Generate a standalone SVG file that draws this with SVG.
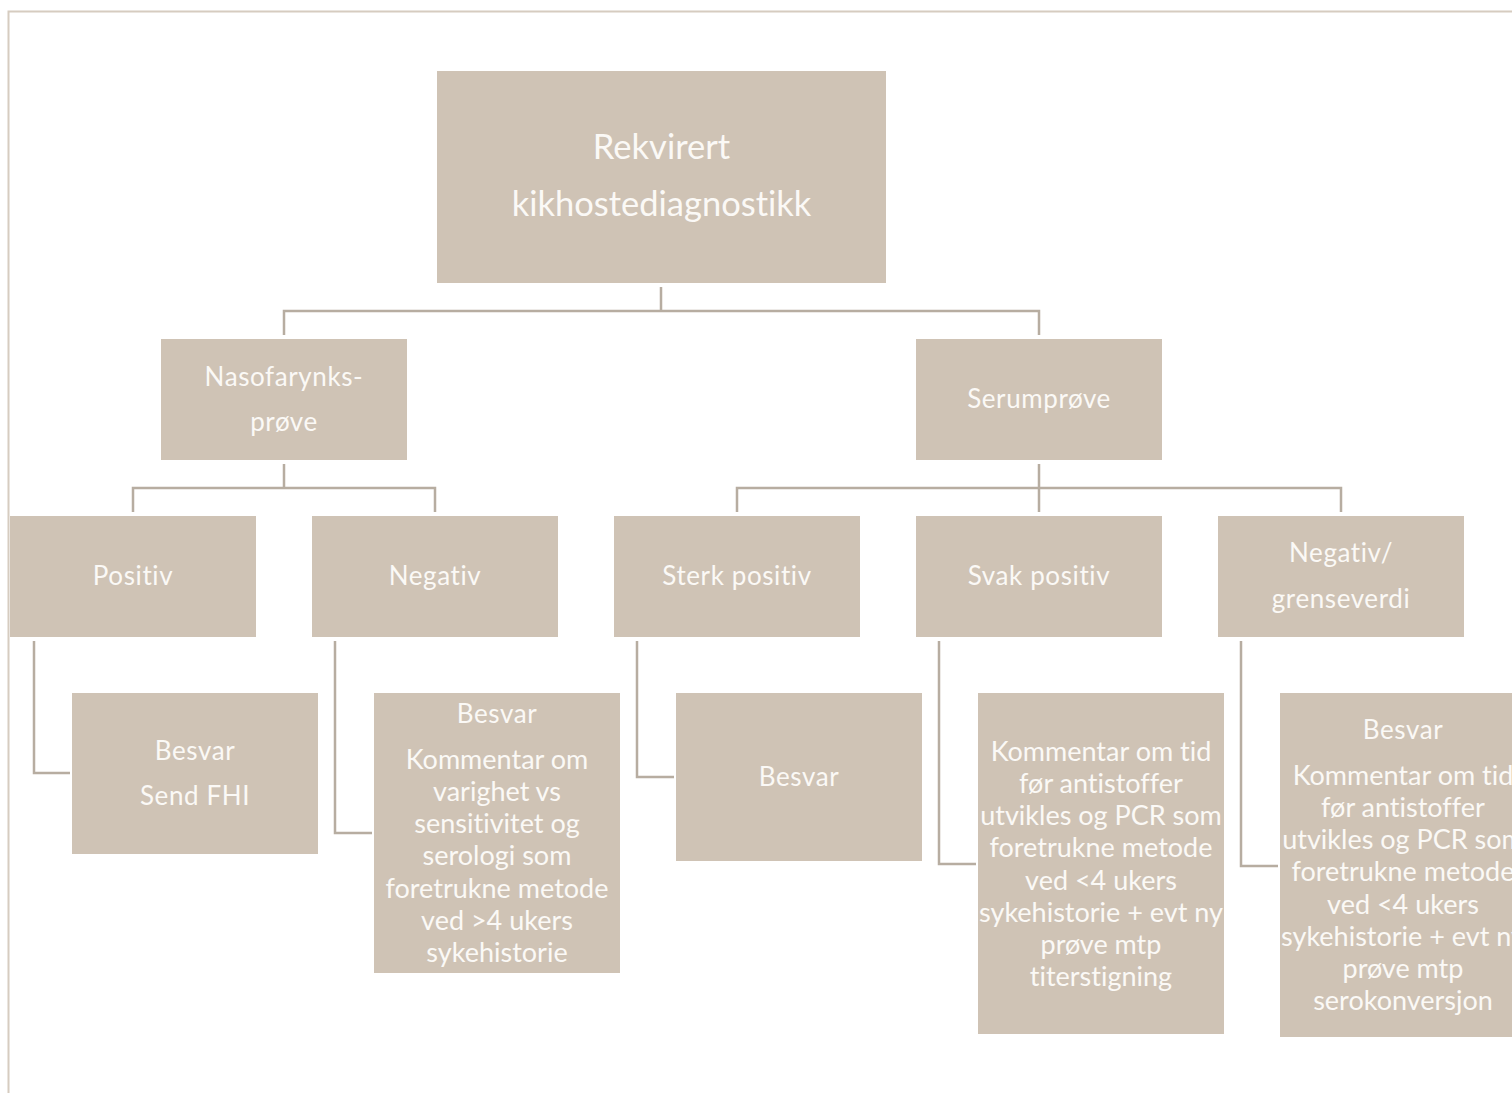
<svg xmlns="http://www.w3.org/2000/svg" width="1512" height="1093" viewBox="0 0 1512 1093">
<style>
.box{fill:#cfc3b5}
.t{fill:#fbf9f6;font-family:Lato,"Open Sans",sans-serif;text-anchor:middle;font-variant-ligatures:none}
.s24{font-size:26px;letter-spacing:0.6px}
.s26{font-size:27px}
.s32{font-size:34.5px}
.c{fill:none;stroke:#b7ada1;stroke-width:2.5}
</style>
<rect width="1512" height="1093" fill="#ffffff"/>
<path d="M8.5,1093 V11.5 H1512" fill="none" stroke="#d6ccc0" stroke-width="2"/>
<g id="connectors">
<path class="c" d="M661,287 V311 M284,335 V311 H1039 V335"/>
<path class="c" d="M284,464 V488 M133,512 V488 H435 V512"/>
<path class="c" d="M1039,464 V512 M737,512 V488 H1341 V512"/>
<path class="c" d="M34,641 V773 H70"/>
<path class="c" d="M335,641 V833 H372"/>
<path class="c" d="M637,641 V777 H674"/>
<path class="c" d="M939,641 V864 H976"/>
<path class="c" d="M1241,641 V866 H1278"/>
</g>
<g id="n-root"><rect class="box" x="437" y="71" width="449" height="212"/>
<text class="t s32" x="661.5" y="159">Rekvirert</text>
<text class="t s32" x="661.5" y="216">kikhostediagnostikk</text></g>
<g id="n-naso"><rect class="box" x="161" y="339" width="246" height="121"/>
<text class="t s24" x="284" y="386">Nasofarynks-</text>
<text class="t s24" x="284" y="431">prøve</text></g>
<g id="n-serum"><rect class="box" x="916" y="339" width="246" height="121"/>
<text class="t s24" x="1039" y="408">Serumprøve</text></g>
<g id="n-pos"><rect class="box" x="10" y="516" width="246" height="121"/>
<text class="t s24" x="133" y="585">Positiv</text></g>
<g id="n-neg"><rect class="box" x="312" y="516" width="246" height="121"/>
<text class="t s24" x="435" y="585">Negativ</text></g>
<g id="n-sterk"><rect class="box" x="614" y="516" width="246" height="121"/>
<text class="t s24" x="737" y="585">Sterk positiv</text></g>
<g id="n-svak"><rect class="box" x="916" y="516" width="246" height="121"/>
<text class="t s24" x="1039" y="585">Svak positiv</text></g>
<g id="n-neggr"><rect class="box" x="1218" y="516" width="246" height="121"/>
<text class="t s24" x="1341" y="562">Negativ/</text>
<text class="t s24" x="1341" y="608">grenseverdi</text></g>
<g id="n-pos-res"><rect class="box" x="72" y="693" width="246" height="161"/>
<text class="t s24" x="195" y="760">Besvar</text>
<text class="t s24" x="195" y="805">Send FHI</text></g>
<g id="n-neg-res"><rect class="box" x="374" y="693" width="246" height="280"/>
<text class="t s24" x="497" y="723">Besvar</text>
<text class="t s26" x="497" y="769">Kommentar om</text>
<text class="t s26" x="497" y="801">varighet vs</text>
<text class="t s26" x="497" y="833">sensitivitet og</text>
<text class="t s26" x="497" y="865">serologi som</text>
<text class="t s26" x="497" y="898">foretrukne metode</text>
<text class="t s26" x="497" y="930">ved &gt;4 ukers</text>
<text class="t s26" x="497" y="962">sykehistorie</text></g>
<g id="n-sterk-res"><rect class="box" x="676" y="693" width="246" height="168"/>
<text class="t s24" x="799" y="786">Besvar</text></g>
<g id="n-svak-res"><rect class="box" x="978" y="693" width="246" height="341"/>
<text class="t s26" x="1101" y="761">Kommentar om tid</text>
<text class="t s26" x="1101" y="793">før antistoffer</text>
<text class="t s26" x="1101" y="825">utvikles og PCR som</text>
<text class="t s26" x="1101" y="857">foretrukne metode</text>
<text class="t s26" x="1101" y="890">ved &lt;4 ukers</text>
<text class="t s26" x="1101" y="922">sykehistorie + evt ny</text>
<text class="t s26" x="1101" y="954">prøve mtp</text>
<text class="t s26" x="1101" y="986">titerstigning</text></g>
<g id="n-neggr-res"><rect class="box" x="1280" y="693" width="246" height="344"/>
<text class="t s24" x="1403" y="739">Besvar</text>
<text class="t s26" x="1403" y="785">Kommentar om tid</text>
<text class="t s26" x="1403" y="817">før antistoffer</text>
<text class="t s26" x="1403" y="849">utvikles og PCR som</text>
<text class="t s26" x="1403" y="881">foretrukne metode</text>
<text class="t s26" x="1403" y="914">ved &lt;4 ukers</text>
<text class="t s26" x="1403" y="946">sykehistorie + evt ny</text>
<text class="t s26" x="1403" y="978">prøve mtp</text>
<text class="t s26" x="1403" y="1010">serokonversjon</text></g>
</svg>
